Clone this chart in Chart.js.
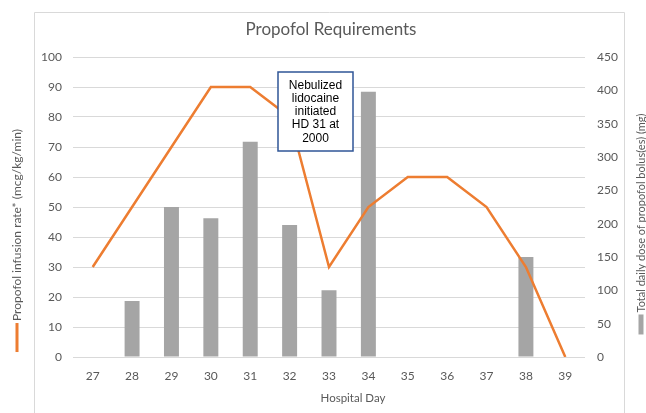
<!DOCTYPE html>
<html>
<head>
<meta charset="utf-8">
<title>Propofol Requirements</title>
<script src="https://cdn.jsdelivr.net/npm/chart.js@4.4.0/dist/chart.umd.min.js"></script>
<style>
    html, body { margin: 0; padding: 0; background: #fff; }
    #wrap { width: 646px; height: 413px; position: relative; }
</style>
</head>
<body>
<div id="wrap"><canvas id="propofolChart" width="646" height="413"></canvas></div>
<script>
// Chart data
var hospitalDays = ['27', '28', '29', '30', '31', '32', '33', '34', '35', '36', '37', '38', '39'];
var infusionRate = [30, 50, 70, 90, 90, 80, 30, 50, 60, 60, 50, 30, 0];
var bolusDose = [null, 84, 225, 208, 323, 198, 100, 398, null, null, null, 150, null];
var rateTicks = [0, 10, 20, 30, 40, 50, 60, 70, 80, 90, 100];
var doseTicks = [0, 50, 100, 150, 200, 250, 300, 350, 400, 450];
var noteLines = ['Nebulized', 'lidocaine', 'initiated', 'HD 31 at', '2000'];

var ORANGE = '#ed7d31';
var GREY_BAR = '#a5a5a5';
var TEXT = '#595959';
var GRID = '#d9d9d9';
var FONT = 'Lato, "Open Sans", sans-serif';

/**
 * Draws the frame, title, axis titles with their legend keys.
 */
var decorPlugin = {
    id: 'decor',
    beforeDraw: function(chart) {
        var ctx = chart.ctx;
        ctx.save();
        ctx.fillStyle = '#fff';
        ctx.fillRect(0, 0, chart.width, chart.height);

        // light frame around the chart
        ctx.strokeStyle = GRID;
        ctx.lineWidth = 1;
        ctx.beginPath();
        ctx.moveTo(34.5, chart.height);
        ctx.lineTo(34.5, 12.5);
        ctx.lineTo(624.5, 12.5);
        ctx.lineTo(624.5, chart.height);
        ctx.stroke();
        ctx.restore();
    },
    afterDraw: function(chart) {
        var ctx = chart.ctx;
        ctx.save();
        ctx.fillStyle = TEXT;
        ctx.textAlign = 'center';
        ctx.textBaseline = 'middle';

        // title
        ctx.font = '17px ' + FONT;
        ctx.fillText('Propofol Requirements', 331, 30);

        // x axis title
        ctx.font = '11.5px ' + FONT;
        ctx.fillText('Hospital Day', 353, 398);

        // left axis title + orange line key
        ctx.save();
        ctx.translate(17, 225);
        ctx.rotate(-Math.PI / 2);
        ctx.font = '12px ' + FONT;
        var lw = ctx.measureText('Propofol infusion rate* (mcg/kg/min)').width;
        ctx.fillText('Propofol infusion rate* (mcg/kg/min)', 0, 0);
        ctx.fillStyle = ORANGE;
        ctx.fillRect(-lw / 2 - 31, -1.5, 29, 3);
        ctx.restore();

        // right axis title + grey bar key
        ctx.save();
        ctx.translate(641, 213);
        ctx.rotate(-Math.PI / 2);
        ctx.font = '11px ' + FONT;
        var rw = ctx.measureText('Total daily dose of propofol bolus(es) (mg)').width;
        ctx.fillText('Total daily dose of propofol bolus(es) (mg)', 0, 0);
        ctx.fillStyle = GREY_BAR;
        ctx.fillRect(-rw / 2 - 22, -2.5, 20, 5);
        ctx.restore();

        ctx.restore();
    },
    afterDatasetsDraw: function(chart) {
        // callout box over the line
        var ctx = chart.ctx;
        ctx.save();
        ctx.fillStyle = '#fff';
        ctx.fillRect(278, 72, 75, 79);
        ctx.strokeStyle = '#2f5597';
        ctx.lineWidth = 1.5;
        ctx.strokeRect(278, 72, 75, 79);
        ctx.fillStyle = '#000';
        ctx.font = '12px "Liberation Sans", Arial, sans-serif';
        ctx.textAlign = 'center';
        ctx.textBaseline = 'middle';
        noteLines.forEach(function(line, i) {
            ctx.fillText(line, 315.5, 85.5 + i * 13.2);
        });
        ctx.restore();
    }
};

var ctx = document.getElementById('propofolChart').getContext('2d');
var propofolChart = new Chart(ctx, {
    type: 'bar',
    data: {
        labels: hospitalDays,
        datasets: [
            {
                type: 'line',
                label: 'Propofol infusion rate* (mcg/kg/min)',
                data: infusionRate,
                yAxisID: 'y',
                borderColor: ORANGE,
                backgroundColor: ORANGE,
                borderWidth: 2.5,
                pointRadius: 0,
                tension: 0,
                fill: false,
                order: 0
            },
            {
                type: 'bar',
                label: 'Total daily dose of propofol bolus(es) (mg)',
                data: bolusDose,
                yAxisID: 'y2',
                backgroundColor: GREY_BAR,
                borderWidth: 0,
                barPercentage: 0.76,
                categoryPercentage: 0.5,
                order: 1
            }
        ]
    },
    options: {
        responsive: false,
        devicePixelRatio: 1,
        animation: false,
        layout: {
            padding: { top: 57, left: 0, right: 0, bottom: 0 }
        },
        plugins: {
            legend: { display: false },
            title: { display: false },
            tooltip: { enabled: false }
        },
        scales: {
            x: {
                offset: true,
                grid: { display: false },
                border: { display: false },
                ticks: {
                    color: TEXT,
                    font: { family: FONT, size: 12 },
                    padding: 4,
                    maxRotation: 0,
                    autoSkip: false
                },
                afterFit: function(scale) { scale.height = 56; }
            },
            y: {
                position: 'left',
                min: rateTicks[0],
                max: rateTicks[rateTicks.length - 1],
                ticks: {
                    stepSize: rateTicks[1] - rateTicks[0],
                    color: TEXT,
                    font: { family: FONT, size: 12 },
                    padding: 11
                },
                grid: { color: GRID, lineWidth: 1, drawTicks: false },
                border: { display: false },
                afterFit: function(scale) { scale.width = 73; }
            },
            y2: {
                position: 'right',
                min: doseTicks[0],
                max: doseTicks[doseTicks.length - 1],
                ticks: {
                    stepSize: doseTicks[1] - doseTicks[0],
                    color: TEXT,
                    font: { family: FONT, size: 12 },
                    padding: 12
                },
                grid: { drawOnChartArea: false, drawTicks: false },
                border: { display: false },
                afterFit: function(scale) { scale.width = 61; }
            }
        }
    },
    plugins: [decorPlugin]
});
</script>
</body>
</html>
